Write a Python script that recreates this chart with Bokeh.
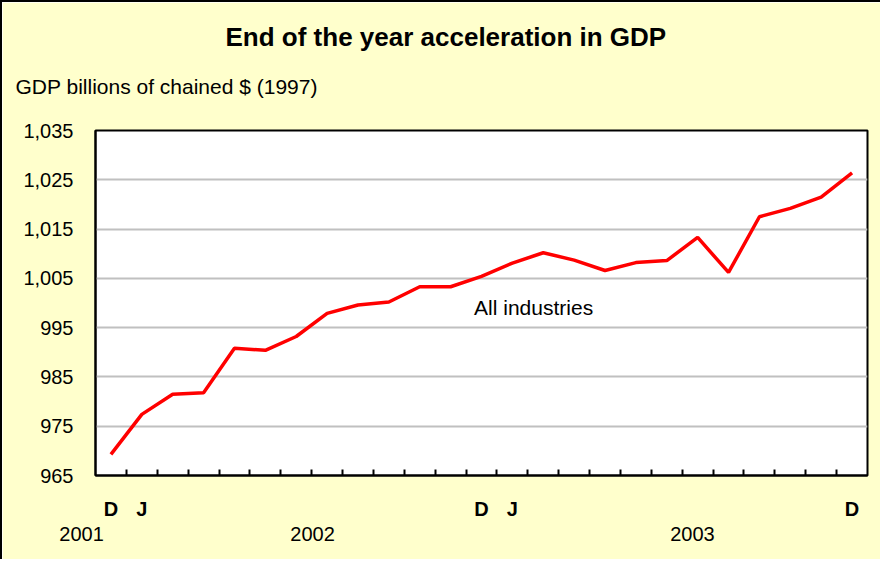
from bokeh.plotting import figure
from bokeh.models import (Range1d, FixedTicker, NumeralTickFormatter, Label, Title,
                          LinearAxis)
from bokeh.embed import file_html
from bokeh.resources import INLINE

# ---- data ----
months = ["D", "J", "F", "M", "A", "M", "J", "J", "A", "S", "O", "N",
          "D", "J", "F", "M", "A", "M", "J", "J", "A", "S", "O", "N", "D"]
gdp = [969.3, 977.4, 981.5, 981.8, 990.8, 990.4, 993.2, 997.9, 999.6, 1000.2,
       1003.3, 1003.3, 1005.4, 1008.1, 1010.2, 1008.7, 1006.6, 1008.2, 1008.6,
       1013.3, 1006.2, 1017.5, 1019.2, 1021.5, 1026.4]
y_ticks = [965, 975, 985, 995, 1005, 1015, 1025, 1035]
labeled_idx = [0, 1, 12, 13, 24]
years = ["2001", "2002", "2003"]
series_name = "All industries"
title_text = "End of the year acceleration in GDP"
ylabel_text = "GDP billions of chained $ (1997)"

# where the year captions sit along the month axis (first one at the axis start,
# padded so that it hangs to the left of the plot area as in the original)
year_at = [-0.5, 6.53, 18.83]
year_text = [years[0] + "     ", years[1], years[2]]

x = list(range(len(gdp)))
FONT = "Liberation Sans"
BG = "#FFFFCC"

p = figure(width=880, height=559, output_backend="svg", toolbar_location=None,
           x_range=Range1d(-0.5, len(gdp) - 0.5), y_range=Range1d(965, 1035),
           min_border_left=93, min_border_right=15, min_border_top=128,
           min_border_bottom=86)
p.styles = {"border-top": "2px solid black", "border-left": "2px solid black"}
p.background_fill_color = "white"
p.border_fill_color = BG
p.outline_line_color = "black"
p.outline_line_width = 2

p.line(x, gdp, line_color="#FF0000", line_width=3.5)

# y axis
p.yaxis.ticker = FixedTicker(ticks=y_ticks)
p.yaxis.formatter = NumeralTickFormatter(format="0,0")
p.yaxis.major_tick_line_color = None
p.yaxis.minor_tick_line_color = None
p.yaxis.axis_line_color = "black"
p.yaxis.axis_line_width = 2
p.yaxis.major_label_standoff = 16
p.yaxis.major_label_text_font = FONT
p.yaxis.major_label_text_font_size = "20px"
p.yaxis.major_label_text_color = "black"

# x axis (months)
p.xaxis.ticker = FixedTicker(ticks=labeled_idx,
                             minor_ticks=[i + 0.5 for i in range(len(gdp) - 1)])
p.xaxis.major_label_overrides = {i: months[i] for i in labeled_idx}
p.xaxis.major_tick_line_color = None
p.xaxis.minor_tick_in = 6
p.xaxis.minor_tick_out = 0
p.xaxis.minor_tick_line_color = "black"
p.xaxis.minor_tick_line_width = 2
p.xaxis.axis_line_color = "black"
p.xaxis.axis_line_width = 2
p.xaxis.major_label_standoff = 16
p.xaxis.major_label_text_font = FONT
p.xaxis.major_label_text_font_size = "20px"
p.xaxis.major_label_text_font_style = "bold"
p.xaxis.major_label_text_color = "black"

# second x axis (years)
yax = LinearAxis(ticker=FixedTicker(ticks=year_at, minor_ticks=[]),
                 major_label_overrides={k: t for k, t in zip(year_at, year_text)},
                 axis_line_color=None, major_tick_line_color=None,
                 minor_tick_line_color=None, major_label_standoff=-6,
                 major_label_text_font=FONT, major_label_text_font_size="20px",
                 major_label_text_color="black")
p.add_layout(yax, "below")

p.xgrid.grid_line_color = None
p.ygrid.ticker = FixedTicker(ticks=y_ticks)
p.ygrid.grid_line_color = "#C0C0C0"
p.ygrid.grid_line_width = 2

# titles (nearest the frame first): blank spacer, subtitle, title
p.add_layout(Title(text="\u00a0", text_font=FONT, text_font_size="1px",
                   text_color=BG, standoff=24), "above")
p.add_layout(Title(text=ylabel_text, text_font=FONT, text_font_size="21px",
                   text_font_style="normal", text_color="black",
                   align="left", offset=-80, vertical_align="top",
                   standoff=7), "above")
p.add_layout(Title(text=title_text, text_font=FONT, text_font_size="26px",
                   text_font_style="bold", text_color="black",
                   align="left", offset=130, vertical_align="top",
                   standoff=36), "above")

p.add_layout(Label(x=11.76, y=999.1, text=series_name, text_font=FONT,
                   text_font_size="21px", text_align="left",
                   text_baseline="middle", text_color="black"))

open("out.html", "w").write(file_html(p, INLINE))
